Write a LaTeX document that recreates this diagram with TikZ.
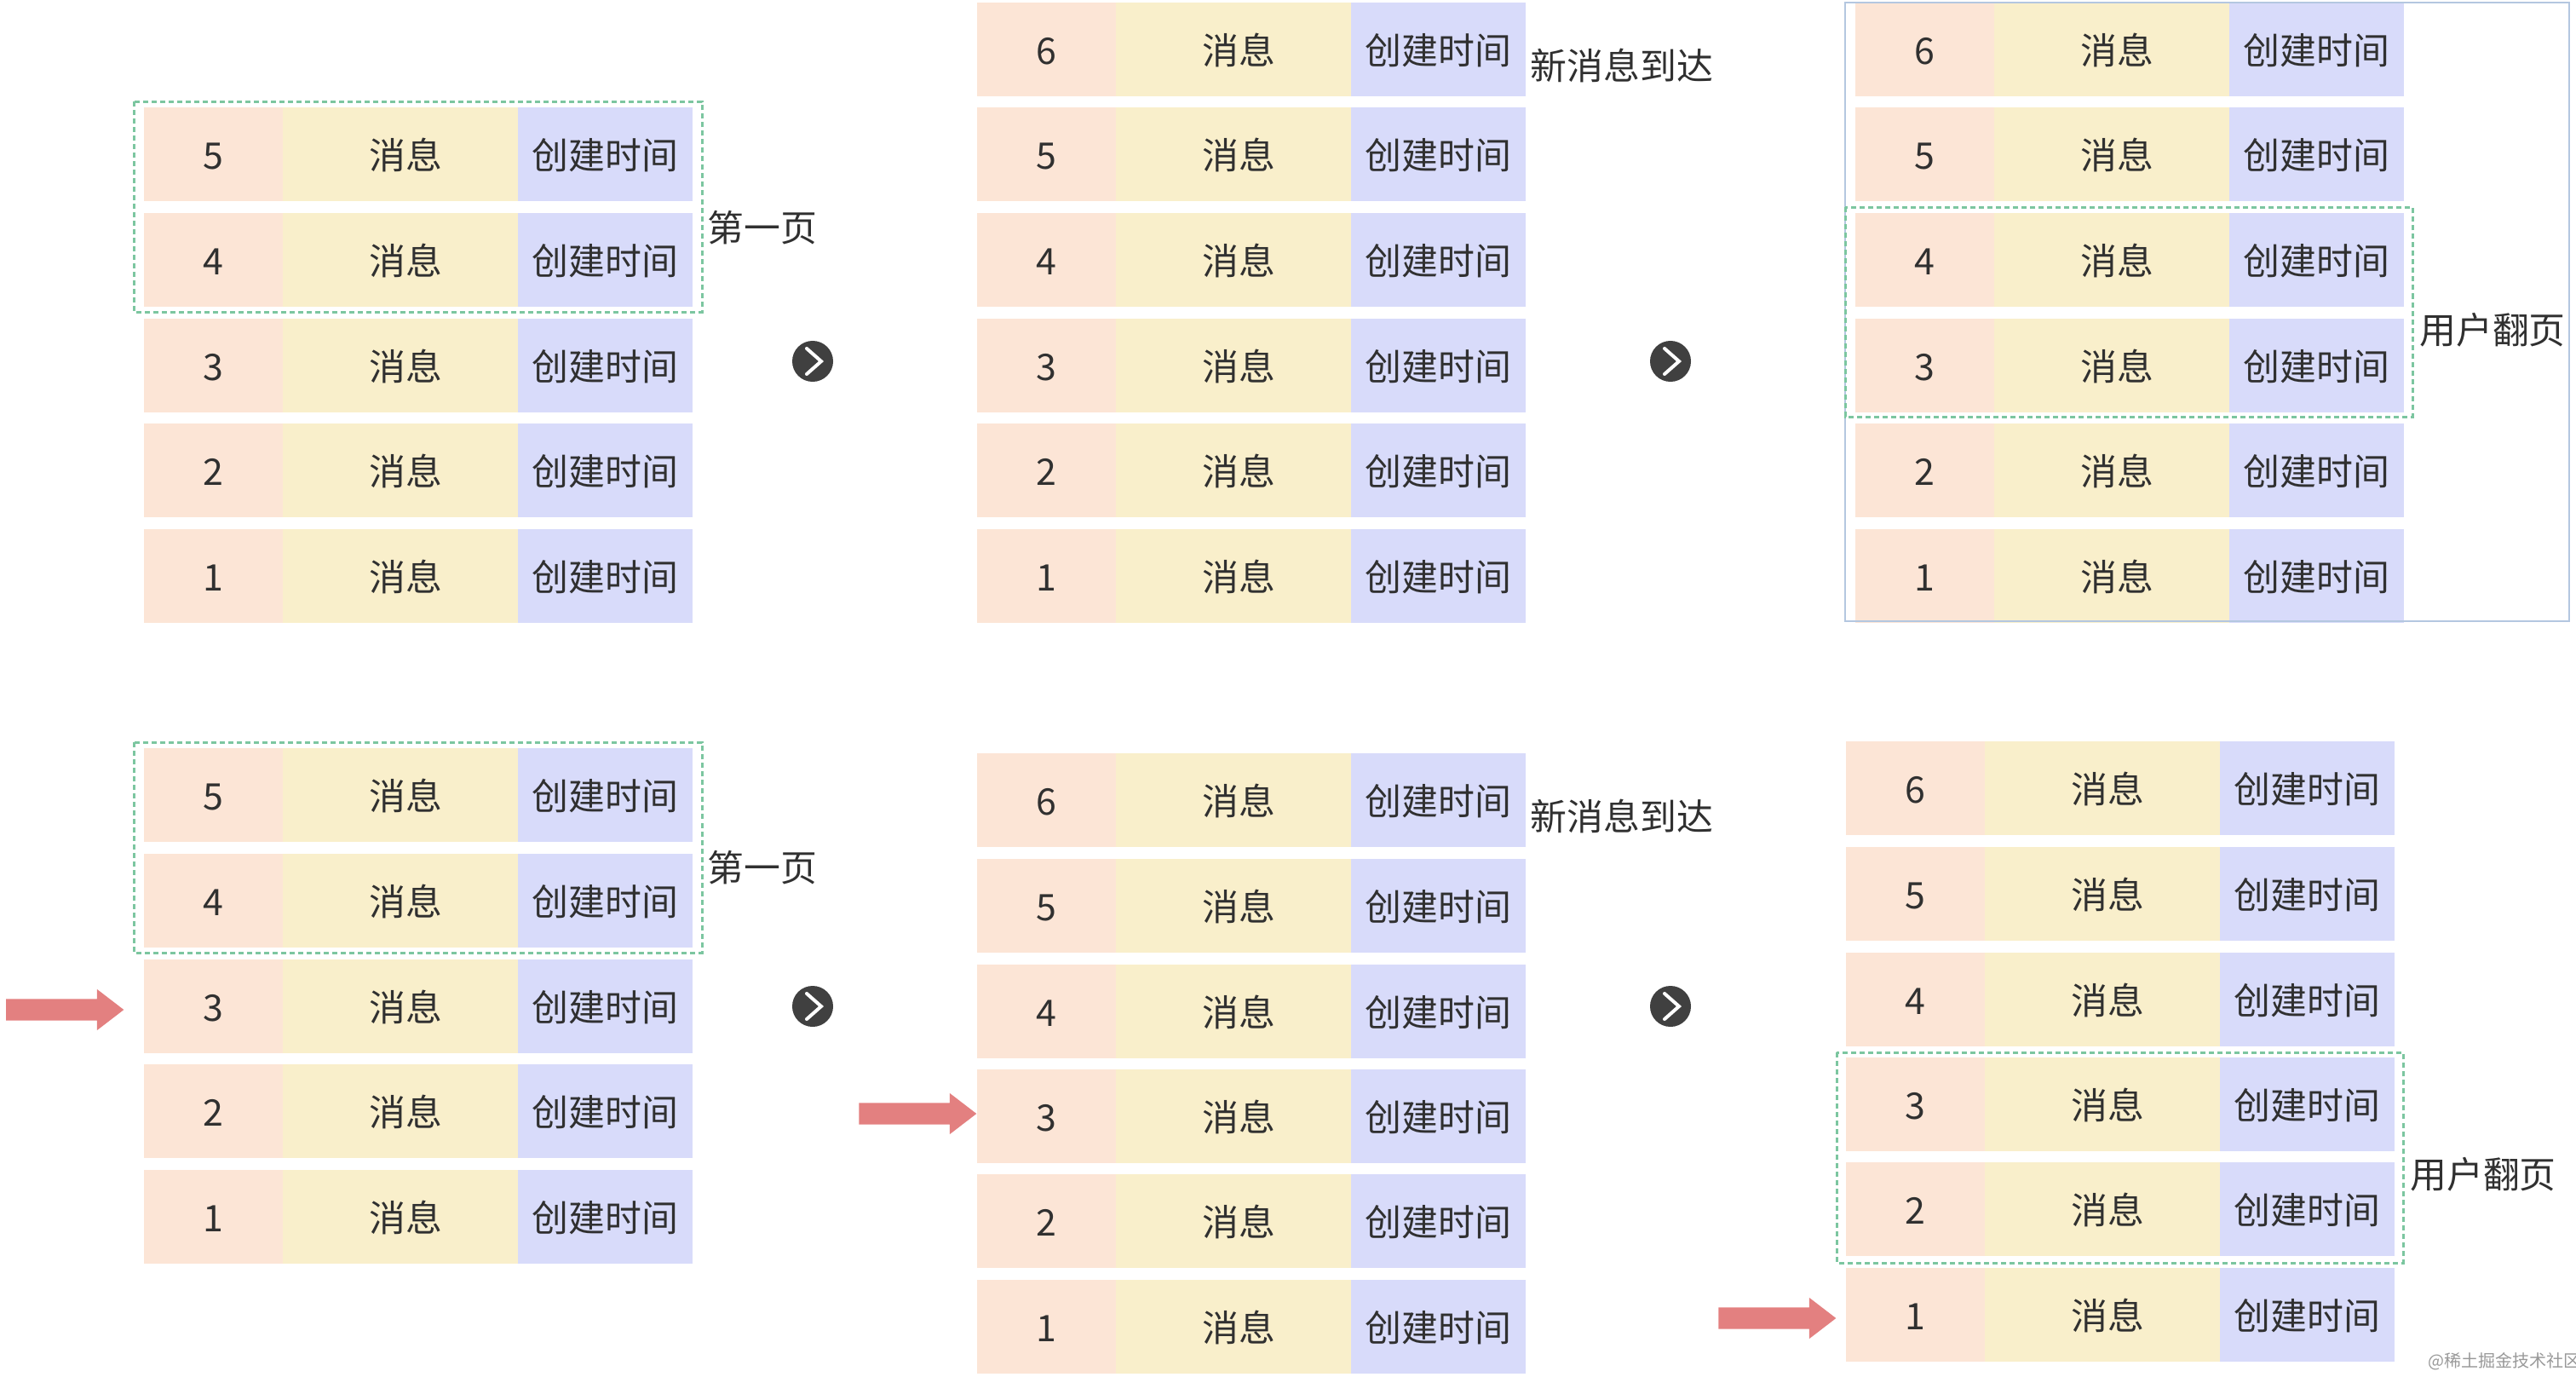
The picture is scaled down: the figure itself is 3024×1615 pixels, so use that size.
\documentclass[tikz,border=0pt]{standalone}
\usepackage{fontspec}
\setmainfont{Noto Sans CJK SC}
\usetikzlibrary{shapes.arrows}

\definecolor{numcolor}{HTML}{FCE5D6}
\definecolor{msgcolor}{HTML}{F9EFCB}
\definecolor{timecolor}{HTML}{D8DBFA}
\definecolor{pagecolor}{HTML}{7CC6A0}
\definecolor{framecolor}{HTML}{B4C7E0}
\definecolor{markcolor}{HTML}{E38080}
\definecolor{textcolor}{HTML}{303030}

\newcommand{\rowfont}{\fontsize{12.2}{14}\selectfont}
\newcommand{\msgrow}[4]{
    \node[cell,fill=numcolor,minimum width=1.63cm]  (#1n) at (#2,#3)      {#4};
    \node[cell,fill=msgcolor,minimum width=2.76cm]  (#1m) at (#2+163,#3)  {\hspace{.12cm}消息};
    \node[cell,fill=timecolor,minimum width=2.05cm] (#1t) at (#2+439,#3)  {创建时间};
}
\newcommand{\nextmark}[3]{
    \node[nextcircle] (#1) at (#2,#3) {};
    \draw[white,line width=.04cm,line cap=round] ([shift={(-7,-15)}]#1.center) -- ([shift={(10,0)}]#1.center) -- ([shift={(-7,15)}]#1.center);
}

\begin{document}
\begin{tikzpicture}[x=.01cm,y=-.01cm,
    cell/.style={anchor=west,minimum height=1.10cm,inner sep=0,outer sep=0,text height=.38cm,text depth=.04cm,text=textcolor,font=\rowfont},
    pagebox/.style={draw=pagecolor,line width=.03cm,dash pattern=on .06cm off .04cm},
    note/.style={inner sep=0,text=textcolor,font=\rowfont},
    nextcircle/.style={circle,fill=black!75,minimum size=.48cm,inner sep=0},
    redmark/.style={single arrow,fill=markcolor,minimum height=1.38cm,inner xsep=0,inner ysep=.12cm,
        single arrow head extend=.115cm,single arrow tip angle=75,single arrow head indent=0cm}]

    \useasboundingbox (0,0) rectangle (3024,1615);

    % top row
    \msgrow{a5}{169}{181}{5}
    \msgrow{a4}{169}{305}{4}
    \msgrow{a3}{169}{429}{3}
    \msgrow{a2}{169}{552}{2}
    \msgrow{a1}{169}{676}{1}

    \msgrow{b6}{1147}{58}{6}
    \msgrow{b5}{1147}{181}{5}
    \msgrow{b4}{1147}{305}{4}
    \msgrow{b3}{1147}{429}{3}
    \msgrow{b2}{1147}{552}{2}
    \msgrow{b1}{1147}{676}{1}

    \msgrow{c6}{2178}{58}{6}
    \msgrow{c5}{2178}{181}{5}
    \msgrow{c4}{2178}{305}{4}
    \msgrow{c3}{2178}{429}{3}
    \msgrow{c2}{2178}{552}{2}
    \msgrow{c1}{2178}{676}{1}

    % bottom row
    \msgrow{d5}{169}{933}{5}
    \msgrow{d4}{169}{1057}{4}
    \msgrow{d3}{169}{1181}{3}
    \msgrow{d2}{169}{1304}{2}
    \msgrow{d1}{169}{1428}{1}

    \msgrow{e6}{1147}{939}{6}
    \msgrow{e5}{1147}{1063}{5}
    \msgrow{e4}{1147}{1187}{4}
    \msgrow{e3}{1147}{1310}{3}
    \msgrow{e2}{1147}{1433}{2}
    \msgrow{e1}{1147}{1557}{1}

    \msgrow{f6}{2167}{925}{6}
    \msgrow{f5}{2167}{1049}{5}
    \msgrow{f4}{2167}{1173}{4}
    \msgrow{f3}{2167}{1296}{3}
    \msgrow{f2}{2167}{1419}{2}
    \msgrow{f1}{2167}{1543}{1}

    % frames
    \draw[draw=framecolor,line width=.02cm] (2166,3) rectangle (3016,729);
    \draw[pagebox] (157,119) rectangle (824,366);
    \draw[pagebox] (2166,243) rectangle (2832,489);
    \draw[pagebox] (157,871) rectangle (824,1118);
    \draw[pagebox] (2156,1235) rectangle (2821,1482);

    % labels
    \node[note] (first1) at (895,267)  {第一页};
    \node[note] (first2) at (895,1018) {第一页};
    \node[note] (new1)   at (1904,77)  {新消息到达};
    \node[note] (new2)   at (1904,958) {新消息到达};
    \node[note] (turn1)  at (2926,387) {用户翻页};
    \node[note] (turn2)  at (2915,1378) {用户翻页};
    \node[inner sep=0,text=black!40,font=\fontsize{5.7}{7}\selectfont] (site) at (2940,1598) {@稀土掘金技术社区};

    \nextmark{next1}{954}{424}
    \nextmark{next2}{1961}{424}
    \nextmark{next3}{954}{1181}
    \nextmark{next4}{1961}{1181}

    \node[redmark] (mark1) at (68,1185)   {};
    \node[redmark] (mark2) at (1069,1307) {};
    \node[redmark] (mark3) at (2078,1547) {};
\end{tikzpicture}
\end{document}
